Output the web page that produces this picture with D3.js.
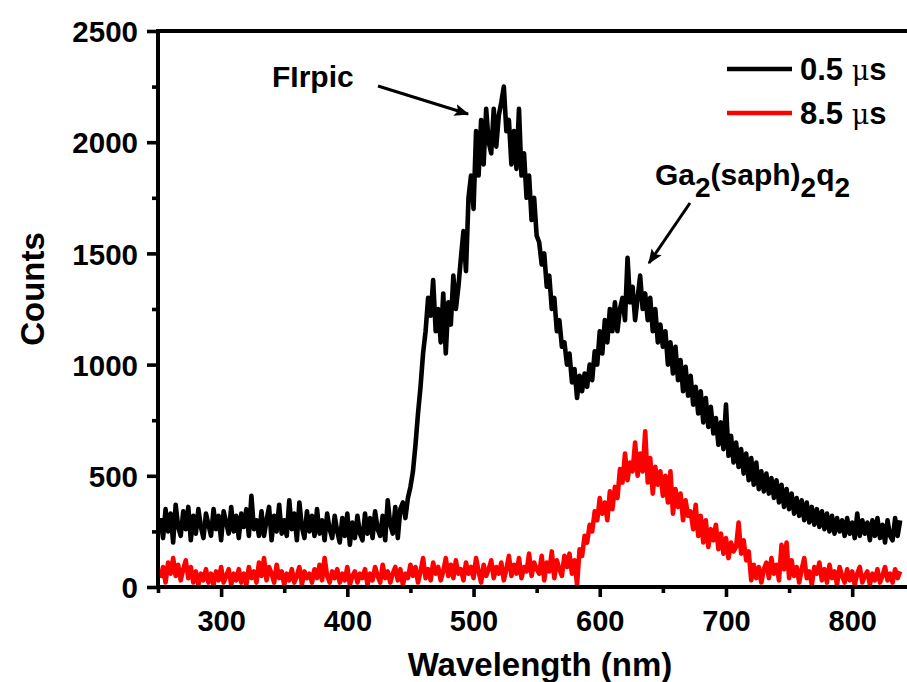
<!DOCTYPE html>
<html><head><meta charset="utf-8">
<script src="https://cdn.jsdelivr.net/npm/d3@7"></script>
<style>
html,body{margin:0;padding:0;background:#fff;}
svg{display:block;}
text{font-family:"Liberation Sans",Arial,sans-serif;font-weight:bold;fill:#000;}
</style></head>
<body>
<svg id="chart" width="907" height="682"></svg>
<script>
// ---- data ----
const wlStart = 252, wlStep = 2;
const xMajorTicks = [300, 400, 500, 600, 700, 800];
const xMinorTicks = [250, 350, 450, 550, 650, 750, 850];
const yMajorTicks = [0, 500, 1000, 1500, 2000, 2500];
const yMinorTicks = [250, 750, 1250, 1750, 2250];
const seriesNames = ["0.5 \u03bcs", "8.5 \u03bcs"];
const seriesColors = ["#000000", "#ff0000"];

const counts05 = [
 310,220,350,250,330,200,370,270,230,340,
 260,360,210,320,240,350,270,220,330,280,
 230,350,260,320,210,340,290,240,360,250,
 320,220,330,270,350,230,410,260,300,230,
 340,230,300,360,210,320,250,370,240,300,
 230,390,260,330,210,380,270,220,340,250,
 320,230,350,240,300,210,330,260,220,320,
 250,200,310,230,330,190,290,220,320,240,
 210,330,240,310,220,340,260,230,320,210,
 390,280,240,360,220,350,380,310,400,450,
 520,640,780,900,1050,1150,1300,1220,1380,1150,
 1250,1100,1320,1050,1280,1180,1400,1250,1350,1480,
 1600,1420,1750,1850,1700,2050,1850,2100,1900,2150,
 2000,1950,2150,1980,2120,2180,2250,2050,2100,1900,
 2050,1880,2150,1850,1950,1750,1850,1650,1750,1580,
 1550,1450,1500,1350,1400,1250,1300,1150,1200,1080,
 1100,1000,1050,920,980,850,950,880,960,900,
 1000,930,1060,1000,1150,1050,1200,1100,1250,1150,
 1280,1150,1250,1300,1200,1480,1280,1350,1200,1300,
 1400,1250,1320,1200,1300,1150,1250,1100,1180,1080,
 1150,1000,1100,960,1080,930,1020,880,990,860,
 950,820,900,780,880,740,850,720,810,690,
 760,640,740,620,820,590,680,560,650,540,
 620,510,600,480,580,460,560,440,520,430,
 510,420,490,400,480,380,460,360,440,350,
 420,330,400,320,390,300,380,290,360,280,
 350,270,340,260,330,250,320,240,310,250,
 300,230,310,240,290,220,330,230,300,240,
 290,210,300,230,310,220,280,200,300,230,
 210,310,230,300
];

const counts85 = [
 40,90,20,110,60,130,50,100,30,80,
 120,40,90,20,70,10,60,30,80,20,
 60,10,70,30,90,20,50,80,10,60,
 30,80,20,60,10,90,40,70,20,110,
 50,130,30,90,60,20,100,40,70,10,
 60,30,80,20,50,90,10,70,40,60,
 20,80,40,100,30,130,50,20,70,40,
 80,20,60,30,90,10,50,70,20,60,
 40,80,10,60,30,90,50,20,100,40,
 70,20,60,90,30,80,10,60,40,100,
 50,90,20,70,130,40,80,30,110,60,
 90,30,70,130,50,100,40,120,60,80,
 30,110,60,90,40,130,70,20,100,50,
 80,120,40,90,60,110,30,80,140,50,
 100,60,130,40,90,70,150,50,110,80,
 60,140,30,110,70,160,40,120,80,50,
 140,90,150,60,120,10,170,140,230,200,
 280,250,340,300,400,330,380,300,430,350,
 450,400,530,470,600,480,560,520,650,500,
 600,520,700,470,580,420,540,460,520,410,
 500,380,520,330,440,360,420,300,390,320,
 340,260,370,230,320,200,300,180,260,210,
 280,170,240,150,220,130,200,160,180,290,
 150,210,120,160,30,100,40,90,20,80,
 110,40,130,60,100,30,190,80,200,40,
 120,50,90,20,80,130,40,70,10,90,
 60,110,30,80,20,100,40,70,10,90,
 50,20,80,30,70,10,60,90,20,50,
 70,10,60,30,80,20,50,90,30,60,
 20,80,40,70
];

// ---- drawing ----
const svg = d3.select("#chart");
const x = d3.scaleLinear().domain([250, 845]).range([158, 909]);
const y = d3.scaleLinear().domain([0, 2500]).range([587, 31]);

const wavelengths = counts05.map((_, i) => wlStart + i * wlStep);

const line = d3.line().x(d => x(d[0])).y(d => y(d[1]));
const seriesData = [counts05, counts85];

seriesData.forEach((vals, k) => {
  svg.append("path")
    .datum(vals.map((v, i) => [wavelengths[i], v]))
    .attr("d", line)
    .attr("fill", "none")
    .attr("stroke", seriesColors[k])
    .attr("stroke-width", 4.6)
    .attr("stroke-linejoin", "round");
});

// axes (ticks via d3 axis, frame lines drawn explicitly)
const xAxis = svg.append("g").attr("transform", "translate(0,587)")
  .call(d3.axisBottom(x).tickValues(xMajorTicks).tickSize(10).tickSizeOuter(0).tickFormat(d3.format("d")));
const xMinor = svg.append("g").attr("transform", "translate(0,587)")
  .call(d3.axisBottom(x).tickValues(xMinorTicks).tickSize(6).tickSizeOuter(0).tickFormat(""));
const yAxis = svg.append("g").attr("transform", "translate(158,0)")
  .call(d3.axisLeft(y).tickValues(yMajorTicks).tickSize(11).tickSizeOuter(0).tickFormat(d3.format("d")));
const yMinor = svg.append("g").attr("transform", "translate(158,0)")
  .call(d3.axisLeft(y).tickValues(yMinorTicks).tickSize(6).tickSizeOuter(0).tickFormat(""));

[xAxis, xMinor, yAxis, yMinor].forEach(g => {
  g.select(".domain").remove();
  g.selectAll(".tick line").style("stroke", "#000").style("stroke-width", "3.6px");
});

const frame = svg.append("g").style("stroke", "#000").style("stroke-width", "4px").style("stroke-linecap", "square");
frame.append("line").attr("x1", x.range()[0]).attr("x2", x.range()[1]).attr("y1", y.range()[0]).attr("y2", y.range()[0]);
frame.append("line").attr("x1", x.range()[0]).attr("x2", x.range()[1]).attr("y1", y.range()[1]).attr("y2", y.range()[1]);
frame.append("line").attr("x1", x.range()[0]).attr("x2", x.range()[0]).attr("y1", y.range()[0]).attr("y2", y.range()[1]);

xAxis.selectAll(".tick text")
  .attr("font-size", 29).attr("font-weight", "bold")
  .attr("font-family", "Liberation Sans, Arial, sans-serif")
  .attr("fill", "#000").attr("dy", null).attr("y", 44);
yAxis.selectAll(".tick text")
  .attr("font-size", 29.5).attr("font-weight", "bold")
  .attr("font-family", "Liberation Sans, Arial, sans-serif")
  .attr("fill", "#000").attr("x", -20).attr("dy", "0.36em");

// axis titles
svg.append("text").attr("x", 540).attr("y", 676)
  .attr("text-anchor", "middle").attr("font-size", 33)
  .text("Wavelength (nm)");
svg.append("text")
  .attr("transform", "translate(44,289) rotate(-90)")
  .attr("text-anchor", "middle").attr("font-size", 33)
  .text("Counts");

// legend
const legY = [69, 113];
seriesNames.forEach((name, k) => {
  svg.append("line").attr("x1", 727).attr("x2", 792)
    .attr("y1", legY[k]).attr("y2", legY[k])
    .attr("stroke", seriesColors[k]).attr("stroke-width", 4.4);
  const parts = name.split(" ");
  const t = svg.append("text").attr("x", 800).attr("y", legY[k] + 11).attr("font-size", 31);
  t.append("tspan").text(parts[0] + " ");
  t.append("tspan").attr("font-family", "DejaVu Serif, serif").attr("font-weight", "normal")
    .attr("font-size", 27).text(parts[1][0]);
  t.append("tspan").text(parts[1].slice(1));
});

// annotations
const defs = svg.append("defs");
defs.append("marker").attr("id", "arr").attr("viewBox", "0 0 10 10")
  .attr("refX", 9).attr("refY", 5).attr("markerWidth", 5).attr("markerHeight", 5)
  .attr("orient", "auto").attr("markerUnits", "strokeWidth")
  .append("path").attr("d", "M0,1 L10,5 L0,9 L2,5 Z").attr("fill", "#000");

svg.append("text").attr("x", 272).attr("y", 87).attr("font-size", 30).text("FIrpic");
svg.append("line").attr("x1", 378).attr("y1", 86).attr("x2", 468).attr("y2", 114)
  .attr("stroke", "#000").attr("stroke-width", 3).attr("marker-end", "url(#arr)");

const ga = svg.append("text").attr("x", 655).attr("y", 185).attr("font-size", 30);
ga.append("tspan").text("Ga");
ga.append("tspan").attr("dy", 12).attr("font-size", 28).text("2");
ga.append("tspan").attr("dy", -12).text("(saph)");
ga.append("tspan").attr("dy", 12).attr("font-size", 28).text("2");
ga.append("tspan").attr("dy", -12).text("q");
ga.append("tspan").attr("dy", 12).attr("font-size", 28).text("2");
svg.append("line").attr("x1", 690).attr("y1", 203).attr("x2", 649).attr("y2", 263)
  .attr("stroke", "#000").attr("stroke-width", 3).attr("marker-end", "url(#arr)");
</script>
</body></html>
